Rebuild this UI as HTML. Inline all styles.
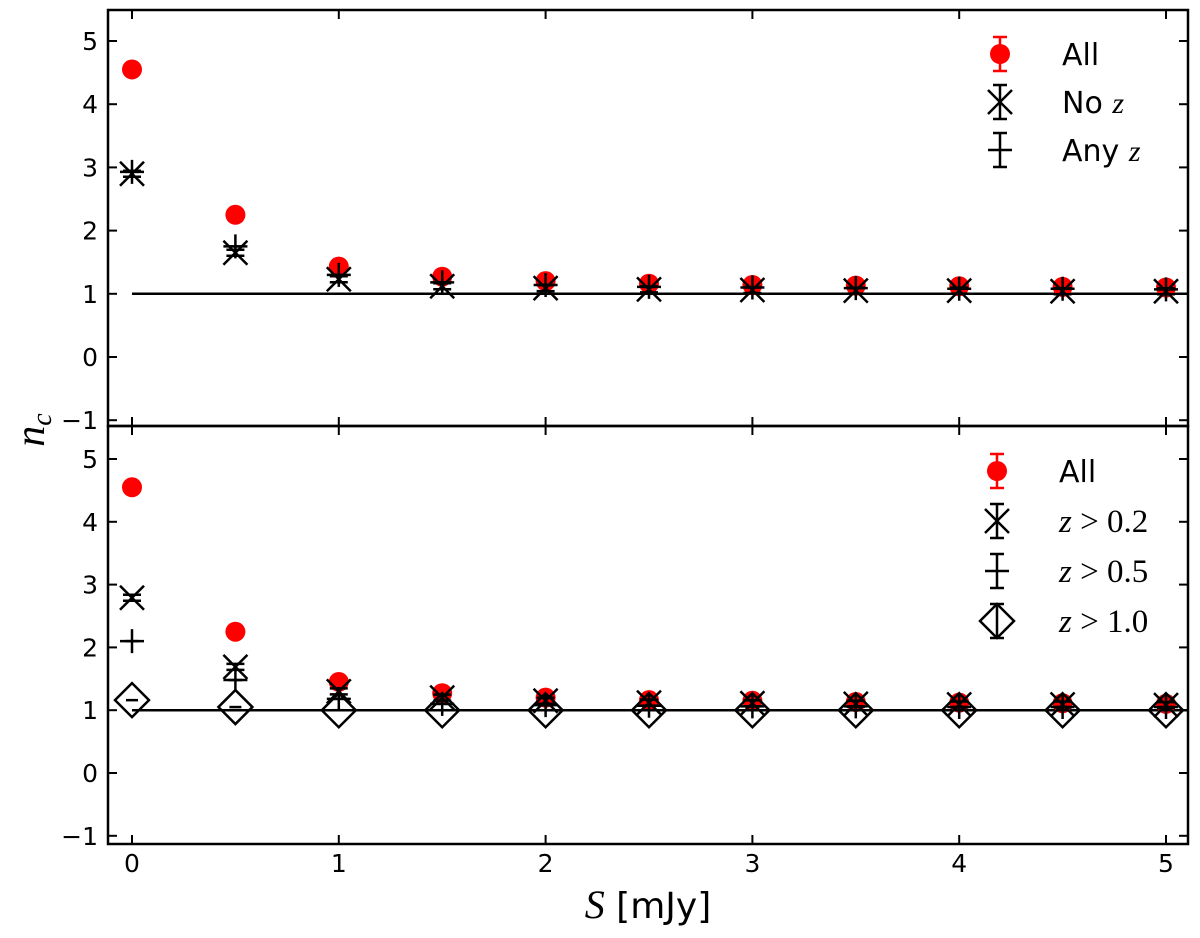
<!DOCTYPE html>
<html><head><meta charset="utf-8"><style>
body{margin:0;background:#fff;}
svg{display:block;font-family:"DejaVu Sans","Liberation Sans",sans-serif;}
</style></head><body>
<svg id="c" width="1200" height="938"></svg>
<script>
const xVals=[0,0.5,1,1.5,2,2.5,3,3.5,4,4.5,5];
const topAll=[4.55,2.25,1.43,1.27,1.2,1.16,1.14,1.13,1.12,1.11,1.1];
const topNoZ=[2.9,1.65,1.23,1.12,1.09,1.07,1.06,1.05,1.05,1.04,1.04];
const topAnyZ=[2.93,1.75,1.3,1.18,1.14,1.11,1.1,1.09,1.08,1.08,1.07];
const botAll=[4.55,2.25,1.45,1.27,1.2,1.16,1.15,1.13,1.12,1.11,1.1];
const botZ02=[2.79,1.69,1.3,1.2,1.15,1.12,1.11,1.1,1.09,1.09,1.08];
const botZ05=[2.1,1.48,1.18,1.1,1.08,1.07,1.06,1.06,1.05,1.05,1.05];
const botZ10=[1.16,1.05,1.0,1.0,1.0,1.0,1.0,1.0,1.0,1.0,1.0];
const yTicks=[-1,0,1,2,3,4,5];
const xTicks=[0,1,2,3,4,5];
const NS="http://www.w3.org/2000/svg";
const svg=document.getElementById('c');
function el(t,a,p){const e=document.createElementNS(NS,t);for(const k in a)e.setAttribute(k,a[k]);(p||svg).appendChild(e);return e;}
const X0=108,X1=1188;
function sx(v){return 132+v*206.8;}
const panels=[{top:10,bot:426,ay:(v)=>357-v*63.2},{top:426,bot:844,ay:(v)=>773-v*62.8}];
function axes(p,i){
  const g=el('g',{});
  
  
  yTicks.forEach(t=>{const y=p.ay(t);
    el('line',{x1:X0,x2:X0+9,y1:y,y2:y,stroke:'#000','stroke-width':2},g);
    el('line',{x1:X1-9,x2:X1,y1:y,y2:y,stroke:'#000','stroke-width':2},g);
    const tx=el('text',{x:X0-10,y:y+9,'text-anchor':'end','font-size':25},g);tx.textContent=t<0?'\u22121':t;
    
    
  });
  xTicks.forEach(t=>{const x=sx(t);
    el('line',{x1:x,x2:x,y1:p.bot,y2:p.bot-9,stroke:'#000','stroke-width':2},g);
    el('line',{x1:x,x2:x,y1:p.top,y2:p.top+9,stroke:'#000','stroke-width':2},g);
  });
  const ref=el('line',{x1:sx(0),x2:X1,y1:p.ay(1),y2:p.ay(1),stroke:'#000','stroke-width':2.5},g);
  
  
  el('rect',{x:X0,y:p.top,width:X1-X0,height:p.bot-p.top,fill:'none',stroke:'#000','stroke-width':2.5},g);
}
function mark(type,x,y,g){
  const s={stroke:'#000','stroke-width':2.5,fill:'none'};
  if(type==='dot'){el('circle',{cx:x,cy:y,r:10,fill:'#f00'},g);}
  else if(type==='x'){el('path',Object.assign({d:`M${x-12} ${y-12}L${x+12} ${y+12}M${x-12} ${y+12}L${x+12} ${y-12}`},s),g);
    el('line',Object.assign({x1:x-9,x2:x+9,y1:y-3,y2:y-3},s),g);el('line',Object.assign({x1:x-9,x2:x+9,y1:y+3,y2:y+3},s),g);}
  else if(type==='plus'){el('path',Object.assign({d:`M${x-12} ${y}L${x+12} ${y}M${x} ${y-12}L${x} ${y+12}`},s),g);
    el('line',Object.assign({x1:x-7,x2:x+7,y1:y,y2:y,'stroke-width':5},s),g);}
  else if(type==='dia'){el('path',Object.assign({d:`M${x} ${y-17}L${x+17} ${y}L${x} ${y+17}L${x-17} ${y}Z`},s),g);
    el('line',Object.assign({x1:x-6,x2:x+6,y1:y,y2:y,'stroke-width':4},s),g);}
}
function series(vals,type,p,name){
  const g=el('g',{});
  
  
  vals.forEach((v,i)=>mark(type,sx(xVals[i]),p.ay(v),g));
}
panels.forEach(axes);
series(topAll,'dot',panels[0],'top-series-all');
series(topNoZ,'x',panels[0],'top-series-no-z');
series(topAnyZ,'plus',panels[0],'top-series-any-z');
series(botAll,'dot',panels[1],'bottom-series-all');
series(botZ02,'x',panels[1],'bottom-series-z-gt-0.2');
series(botZ05,'plus',panels[1],'bottom-series-z-gt-0.5');
series(botZ10,'dia',panels[1],'bottom-series-z-gt-1.0');
xTicks.forEach(t=>{const tx=el('text',{x:sx(t),y:872,'text-anchor':'middle','font-size':25});tx.textContent=t;
  
  });
function legend(items,x,y0,dy,name){
  const g=el('g',{});
  
  
  items.forEach((it,i)=>{const y=y0+i*dy;
    const col=it[0]==='dot'?'#f00':'#000';
    el('path',{d:`M${x} ${y-17}V${y+17}M${x-7} ${y-17}H${x+7}M${x-7} ${y+17}H${x+7}`,stroke:col,'stroke-width':2.5,fill:'none'},g);
    if(it[0]==='dot')el('circle',{cx:x,cy:y,r:10,fill:'#f00'},g);
    else if(it[0]==='x')el('path',{d:`M${x-12} ${y-12}L${x+12} ${y+12}M${x-12} ${y+12}L${x+12} ${y-12}`,stroke:'#000','stroke-width':2.5},g);
    else if(it[0]==='plus')el('path',{d:`M${x-12} ${y}H${x+12}`,stroke:'#000','stroke-width':2.5},g);
    else el('path',{d:`M${x} ${y-17}L${x+17} ${y}L${x} ${y+17}L${x-17} ${y}Z`,stroke:'#000','stroke-width':2.5,fill:'none'},g);
    const t=el('text',{x:x+62,y:y+11,'font-size':it[2]?33:30,'font-family':it[2]?'"Liberation Serif",serif':'"DejaVu Sans",sans-serif'},g);
    t.innerHTML=it[1];
    
    
  });
}
legend([['dot','All'],['x','No <tspan font-style="italic" font-family="Liberation Serif">z</tspan>'],['plus','Any <tspan font-style="italic" font-family="Liberation Serif">z</tspan>']],1000,54,48,'top-legend');
legend([['dot','All'],['x','<tspan font-style="italic">z</tspan> &gt; 0.2',1],['plus','<tspan font-style="italic">z</tspan> &gt; 0.5',1],['dia','<tspan font-style="italic">z</tspan> &gt; 1.0',1]],997,471,50,'bottom-legend');
const yl=el('text',{x:0,y:0,'font-size':42,'font-style':'italic','font-family':'"Liberation Serif",serif',transform:'translate(44,430) rotate(-90)','text-anchor':'middle'});
yl.innerHTML='n<tspan font-size="28" dy="7">c</tspan>';


const xl=el('text',{x:648,y:918,'font-size':36,'text-anchor':'middle'});
xl.innerHTML='<tspan font-style="italic" font-family="Liberation Serif" font-size="40">S</tspan> [mJy]';


</script>
</body></html>
